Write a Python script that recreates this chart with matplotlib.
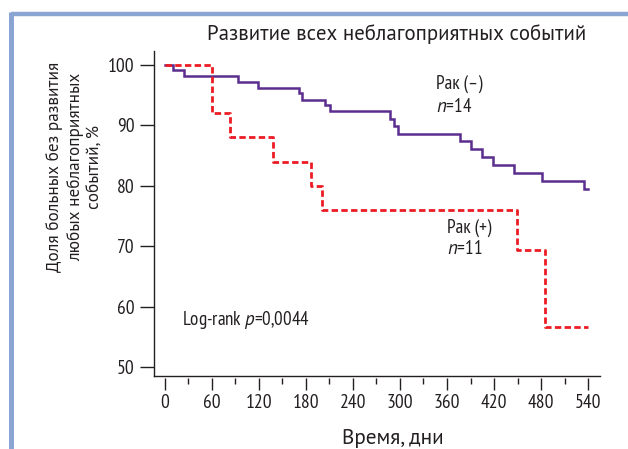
import matplotlib
matplotlib.use("Agg")
import matplotlib.pyplot as plt
from matplotlib.lines import Line2D
from matplotlib.ticker import MultipleLocator

# ---- data ----
neg_days = [0, 11, 25, 93, 119, 171, 175, 205, 211, 287, 292, 297, 376, 390, 404, 419, 445, 481, 534, 540]
neg_surv = [100, 99.1, 98.2, 97.2, 96.2, 95.4, 94.2, 93.4, 92.4, 91.0, 89.9, 88.6, 87.4, 86.1, 84.8, 83.4, 82.1, 80.7, 79.4, 79.4]
pos_days = [0, 61, 84, 138, 186, 201, 449, 485, 540]
pos_surv = [100, 92.0, 88.0, 84.0, 80.0, 76.0, 69.4, 56.6, 56.6]
x_ticks = list(range(0, 541, 60))
y_ticks = [50, 60, 70, 80, 90, 100]

title = "Развитие всех неблагоприятных событий"
ylabel = "Доля больных без развития\nлюбых неблагоприятных\nсобытий, %"
xlabel = "Время, дни"

NARROW = ["PT Sans Narrow", "DejaVu Sans"]
REG = ["PT Sans", "DejaVu Sans"]
plt.rcParams["mathtext.fontset"] = "custom"
plt.rcParams["mathtext.rm"] = "PT Sans Narrow"
plt.rcParams["mathtext.it"] = "PT Sans:italic"

fig = plt.figure(figsize=(6.28, 4.49), dpi=100)
ax = fig.add_axes([154/628, 1-376/449, (600-154)/628, (376-51)/449])

ink = "#231F20"
ax.step(neg_days, neg_surv, where="post", color="#5B2D8E", lw=1.8, solid_joinstyle="miter")
ax.step(pos_days, pos_surv, where="post", color="#ED1C24", lw=2.0, linestyle=(0, (2.3, 1.2)))

ax.set_xlim(-13.5, 555)
ax.set_ylim(48.5, 102.3)

for s in ["top", "right"]:
    ax.spines[s].set_visible(False)
ax.spines["left"].set_color(ink)
ax.spines["left"].set_linewidth(1.0)
ax.spines["bottom"].set_position(("outward", 1.5))
ax.spines["bottom"].set_visible(False)
ax.axhline(48.5, color=ink, lw=1.0, clip_on=False)

ax.set_xticks(x_ticks)
ax.xaxis.set_minor_locator(MultipleLocator(30))
ax.set_yticks(y_ticks)
ax.tick_params(axis="x", which="major", length=8.5, width=1.0, color=ink, pad=3, labelsize=14)
ax.tick_params(axis="x", which="minor", length=4, width=1.0, color=ink)
ax.tick_params(axis="y", which="major", length=10, width=1.0, color=ink, pad=4, labelsize=14)
for lab in ax.get_xticklabels() + ax.get_yticklabels():
    lab.set_fontfamily(NARROW)
    lab.set_color(ink)

# annotations
kw = dict(family=NARROW, fontsize=13, color=ink, ha="left", va="center")
t_neg = ax.text(345.5, 96.9, "Рак (–)", **kw)
t_nneg = ax.text(345.5, 93.1, "$n$=14", **kw)
t_pos = ax.text(360.1, 73.1, "Рак (+)", **kw)
t_npos = ax.text(360.1, 69.5, "$n$=11", **kw)
t_lr = ax.text(21.8, 57.8, "Log-rank $p$=0,0044", **kw)

t_title = fig.text(397/628, 1-34/449, title, family=REG, fontsize=13, color=ink, ha="center", va="center")
t_ylab = fig.text(75/628, 1-167/449, ylabel, family=REG, fontsize=13, color=ink, ha="center", va="center",
                  rotation=90, multialignment="center", linespacing=1.3)
t_xlab = fig.text(393/628, 1-438/449, xlabel, family=REG, fontsize=13, color=ink, ha="center", va="center")

# blue frame
fc = "#8BA5D3"
fig.add_artist(Line2D([10.5/628, 1.0], [1-14/449, 1-14/449], color=fc, lw=3.2, solid_capstyle="butt"))
fig.add_artist(Line2D([10.5/628, 10.5/628], [0, 1-12.3/449], color=fc, lw=3.6, solid_capstyle="butt"))

# ---- fit font sizes to the reference's text extents ----
fig.canvas.draw()
r = fig.canvas.get_renderer()

def fit(t, target, dim="w"):
    bb = t.get_window_extent(r)
    cur = bb.width if dim == "w" else bb.height
    s = t.get_fontsize() * target / cur
    t.set_fontsize(s)
    return s

fit(t_title, 378)
fit(t_xlab, 102)
fit(t_ylab, 208, "h")
s_ann = fit(t_lr, 128)
for t in (t_neg, t_nneg, t_pos, t_npos):
    t.set_fontsize(s_ann)

fig.savefig("out.png", dpi=100)
